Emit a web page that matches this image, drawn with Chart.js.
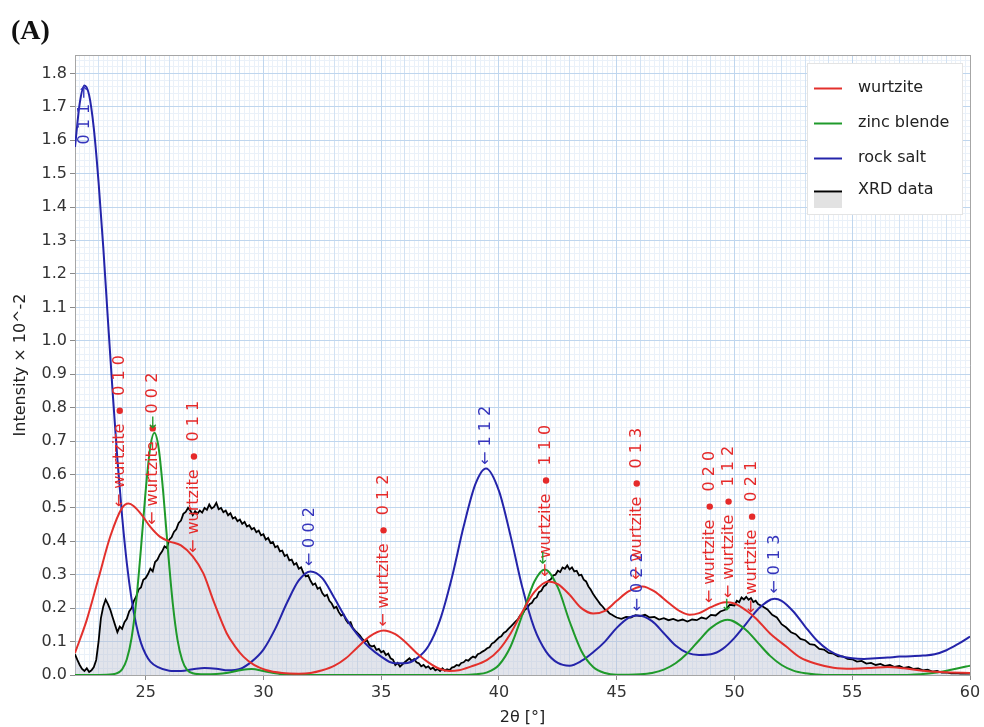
<!DOCTYPE html>
<html>
<head>
<meta charset="utf-8">
<title>XRD phase fit</title>
<script src="https://cdn.jsdelivr.net/npm/chart.js@4.4.1/dist/chart.umd.min.js"></script>
<style>
  html, body { margin: 0; padding: 0; background: #fff; }
  #wrap { width: 984px; height: 727px; position: relative; }
  canvas { display: block; }
</style>
</head>
<body>
<div id="wrap"><canvas id="xrd" width="984" height="727"></canvas></div>
<script>
// ---- axis ranges and labelled ticks ----
const angleRange = [22, 60];
const intensityRange = [0, 1.855];
const xTickValues = [25, 30, 35, 40, 45, 50, 55, 60];
const yTickValues = [0, 0.1, 0.2, 0.3, 0.4, 0.5, 0.6, 0.7, 0.8, 0.9, 1.0,
                     1.1, 1.2, 1.3, 1.4, 1.5, 1.6, 1.7, 1.8];
const seriesNames = ['wurtzite', 'zinc blende', 'rock salt', 'XRD data'];

// ---- fitted phase profiles: [2θ, intensity] ----
const wurtziteFit = [
  [22.0,0.066],[22.5,0.165],[23.0,0.29],[23.5,0.415],[24.0,0.5],[24.27,0.513],[24.5,0.505],
  [24.8,0.482],[25.2,0.443],[25.6,0.414],[26.0,0.4],[26.5,0.388],[27.0,0.355],[27.45,0.304],
  [27.9,0.218],[28.44,0.125],[28.8,0.085],[29.15,0.055],[29.6,0.03],[30.1,0.015],[30.8,0.006],
  [31.5,0.004],[32.0,0.006],[32.5,0.014],[33.0,0.027],[33.5,0.05],[34.0,0.083],[34.5,0.115],
  [35.1,0.133],[35.6,0.122],[36.0,0.1],[36.5,0.066],[37.0,0.038],[37.5,0.018],[37.9,0.012],
  [38.3,0.014],[38.8,0.025],[39.5,0.045],[40.0,0.075],[40.5,0.125],[41.0,0.19],[41.5,0.248],
  [42.1,0.28],[42.5,0.272],[43.0,0.24],[43.5,0.2],[44.0,0.184],[44.5,0.192],[45.0,0.222],
  [45.5,0.25],[46.1,0.265],[46.6,0.25],[47.2,0.216],[47.7,0.19],[48.1,0.18],[48.5,0.185],
  [49.0,0.203],[49.6,0.218],[50.0,0.214],[50.5,0.193],[50.9,0.17],[51.5,0.125],[52.2,0.085],
  [52.8,0.052],[53.5,0.033],[54.2,0.022],[55.0,0.019],[55.8,0.021],[56.5,0.024],[57.2,0.02],
  [58.0,0.013],[59.0,0.008],[60.0,0.006]
];

const zincBlendeFit = [
  [22.0,0],[23.0,0],[23.6,0.002],[24.0,0.017],[24.2,0.047],[24.4,0.11],[24.6,0.221],[24.8,0.378],
  [25.0,0.551],[25.2,0.684],[25.37,0.725],[25.55,0.68],[25.75,0.543],[25.95,0.37],[26.15,0.215],
  [26.35,0.106],[26.55,0.045],[26.75,0.016],[27.0,0.005],[27.5,0.002],[28.0,0.003],[28.5,0.007],
  [29.0,0.014],[29.5,0.018],[30.0,0.012],[30.5,0.005],[31.0,0.001],[32.0,0],[38.5,0],[39.0,0.002],
  [39.5,0.008],[40.0,0.03],[40.5,0.086],[41.0,0.181],[41.5,0.279],[41.95,0.316],[42.5,0.262],
  [43.0,0.16],[43.5,0.072],[44.0,0.024],[44.5,0.006],[45.0,0.001],[45.5,0.001],[46.0,0.002],
  [46.5,0.006],[47.0,0.016],[47.5,0.035],[48.0,0.065],[48.5,0.104],[49.0,0.141],[49.7,0.165],
  [50.5,0.134],[51.0,0.096],[51.5,0.058],[52.0,0.03],[52.5,0.013],[53.0,0.005],[53.5,0.0015],
  [54.0,0],[57.0,0],[57.5,0.001],[58.0,0.003],[58.5,0.007],[59.0,0.013],[59.5,0.02],[60.0,0.028]
];

const rockSaltFit = [
  [22.0,1.58],[22.2,1.71],[22.4,1.764],[22.6,1.735],[22.8,1.635],[23.0,1.475],[23.2,1.28],
  [23.4,1.06],[23.6,0.845],[23.8,0.645],[24.0,0.475],[24.2,0.335],[24.4,0.228],[24.6,0.15],
  [24.8,0.096],[25.0,0.062],[25.2,0.04],[25.5,0.024],[26.0,0.013],[26.5,0.012],[27.0,0.017],
  [27.5,0.021],[28.0,0.019],[28.5,0.014],[29.0,0.018],[29.5,0.04],[30.0,0.076],[30.5,0.138],
  [31.0,0.216],[31.5,0.283],[32.0,0.31],[32.5,0.29],[33.0,0.232],[33.5,0.17],[34.0,0.12],
  [34.5,0.082],[35.0,0.055],[35.5,0.036],[36.0,0.035],[36.5,0.049],[37.0,0.086],[37.5,0.165],
  [38.0,0.291],[38.5,0.444],[39.0,0.571],[39.45,0.618],[40.0,0.551],[40.5,0.414],[41.0,0.26],
  [41.5,0.14],[42.0,0.07],[42.5,0.036],[43.0,0.028],[43.5,0.042],[44.0,0.068],[44.5,0.1],
  [45.0,0.141],[45.5,0.171],[45.9,0.178],[46.5,0.161],[47.0,0.125],[47.5,0.088],[48.0,0.066],
  [48.5,0.06],[49.0,0.062],[49.5,0.078],[50.0,0.111],[50.5,0.154],[51.0,0.197],[51.7,0.228],
  [52.0,0.222],[52.5,0.19],[53.0,0.145],[53.5,0.103],[54.0,0.074],[54.5,0.057],[55.0,0.05],
  [55.5,0.048],[56.0,0.05],[56.5,0.052],[57.0,0.055],[57.5,0.056],[58.0,0.058],[58.5,0.062],
  [59.0,0.074],[59.5,0.093],[60.0,0.115]
];

// ---- measured diffractogram: [2θ, intensity] ----
const xrdData = [
  [22.0,0.062],[22.1,0.045],[22.2,0.03],[22.3,0.018],[22.4,0.012],[22.5,0.02],[22.6,0.009],
  [22.7,0.014],[22.8,0.024],[22.9,0.045],[23.0,0.1],[23.1,0.17],[23.2,0.205],[23.3,0.226],
  [23.4,0.212],[23.5,0.195],[23.6,0.172],[23.7,0.15],[23.8,0.128],[23.9,0.145],[24.0,0.138],
  [24.1,0.158],[24.2,0.168],[24.3,0.19],[24.4,0.2],[24.5,0.222],[24.6,0.235],[24.7,0.256],
  [24.8,0.262],[24.9,0.285],[25.0,0.29],[25.1,0.302],[25.2,0.318],[25.3,0.31],[25.4,0.338],
  [25.5,0.345],[25.6,0.36],[25.7,0.37],[25.8,0.385],[25.9,0.38],[26.0,0.405],[26.1,0.412],
  [26.2,0.428],[26.3,0.436],[26.4,0.455],[26.5,0.462],[26.6,0.482],[26.7,0.488],[26.8,0.5],
  [26.9,0.492],[27.0,0.478],[27.1,0.49],[27.2,0.483],[27.3,0.492],[27.4,0.486],[27.5,0.5],
  [27.6,0.494],[27.7,0.51],[27.8,0.498],[27.9,0.503],[28.0,0.515],[28.1,0.496],[28.2,0.5],
  [28.3,0.487],[28.4,0.492],[28.5,0.478],[28.6,0.484],[28.7,0.468],[28.8,0.472],[28.9,0.46],
  [29.0,0.465],[29.1,0.452],[29.2,0.458],[29.3,0.444],[29.4,0.448],[29.5,0.436],[29.6,0.44],
  [29.7,0.427],[29.8,0.432],[29.9,0.418],[30.0,0.421],[30.1,0.405],[30.2,0.41],[30.3,0.395],
  [30.4,0.398],[30.5,0.382],[30.6,0.386],[30.7,0.37],[30.8,0.372],[30.9,0.356],[31.0,0.36],
  [31.1,0.343],[31.2,0.345],[31.3,0.33],[31.4,0.335],[31.5,0.318],[31.6,0.322],[31.7,0.305],
  [31.8,0.295],[31.9,0.298],[32.0,0.282],[32.1,0.27],[32.2,0.274],[32.3,0.258],[32.4,0.262],
  [32.5,0.245],[32.6,0.236],[32.7,0.24],[32.8,0.222],[32.9,0.214],[33.0,0.2],[33.1,0.204],
  [33.2,0.188],[33.3,0.178],[33.4,0.182],[33.5,0.165],[33.6,0.155],[33.7,0.158],[33.8,0.14],
  [33.9,0.132],[34.0,0.125],[34.1,0.118],[34.2,0.108],[34.3,0.1],[34.4,0.104],[34.5,0.09],
  [34.6,0.085],[34.7,0.088],[34.8,0.075],[34.9,0.078],[35.0,0.068],[35.1,0.072],[35.2,0.06],
  [35.3,0.064],[35.4,0.05],[35.5,0.046],[35.6,0.03],[35.7,0.036],[35.8,0.025],[35.9,0.032],
  [36.0,0.038],[36.1,0.044],[36.2,0.05],[36.3,0.042],[36.4,0.048],[36.5,0.038],[36.6,0.035],
  [36.7,0.026],[36.8,0.03],[36.9,0.022],[37.0,0.026],[37.1,0.018],[37.2,0.022],[37.3,0.014],
  [37.4,0.018],[37.5,0.012],[37.6,0.02],[37.7,0.013],[37.8,0.017],[37.9,0.014],[38.0,0.022],
  [38.1,0.024],[38.2,0.03],[38.3,0.028],[38.4,0.036],[38.5,0.038],[38.6,0.045],[38.7,0.043],
  [38.8,0.05],[38.9,0.055],[39.0,0.052],[39.1,0.062],[39.2,0.065],[39.3,0.07],[39.4,0.074],
  [39.5,0.08],[39.6,0.083],[39.7,0.094],[39.8,0.098],[39.9,0.105],[40.0,0.112],[40.1,0.116],
  [40.2,0.126],[40.3,0.13],[40.4,0.138],[40.5,0.145],[40.6,0.152],[40.7,0.16],[40.8,0.166],
  [40.9,0.178],[41.0,0.182],[41.1,0.195],[41.2,0.2],[41.3,0.212],[41.4,0.216],[41.5,0.228],
  [41.6,0.232],[41.7,0.248],[41.8,0.252],[41.9,0.265],[42.0,0.27],[42.1,0.282],[42.2,0.286],
  [42.3,0.298],[42.4,0.3],[42.5,0.312],[42.6,0.308],[42.7,0.322],[42.8,0.318],[42.9,0.328],
  [43.0,0.316],[43.1,0.322],[43.2,0.31],[43.3,0.312],[43.4,0.298],[43.5,0.3],[43.6,0.285],
  [43.7,0.28],[43.8,0.265],[43.9,0.255],[44.0,0.242],[44.1,0.232],[44.2,0.222],[44.3,0.212],
  [44.4,0.205],[44.5,0.196],[44.6,0.192],[44.7,0.184],[44.8,0.18],[44.9,0.176],[45.0,0.172],
  [45.2,0.168],[45.4,0.174],[45.6,0.172],[45.8,0.179],[46.0,0.176],[46.2,0.18],[46.4,0.172],
  [46.6,0.174],[46.8,0.166],[47.0,0.17],[47.2,0.164],[47.4,0.168],[47.6,0.162],[47.8,0.166],
  [48.0,0.16],[48.2,0.166],[48.4,0.164],[48.6,0.172],[48.8,0.168],[49.0,0.18],[49.2,0.178],
  [49.4,0.19],[49.6,0.195],[49.8,0.21],[50.0,0.208],[50.1,0.222],[50.2,0.218],[50.3,0.232],
  [50.4,0.226],[50.5,0.234],[50.6,0.225],[50.7,0.23],[50.8,0.218],[50.9,0.222],[51.0,0.212],
  [51.2,0.205],[51.4,0.196],[51.6,0.18],[51.8,0.172],[52.0,0.152],[52.2,0.142],[52.4,0.128],
  [52.6,0.122],[52.8,0.108],[53.0,0.104],[53.2,0.092],[53.4,0.09],[53.6,0.078],[53.8,0.076],
  [54.0,0.066],[54.2,0.064],[54.4,0.056],[54.6,0.056],[54.8,0.048],[55.0,0.047],[55.2,0.04],
  [55.4,0.042],[55.6,0.034],[55.8,0.036],[56.0,0.03],[56.2,0.033],[56.4,0.027],[56.6,0.03],
  [56.8,0.024],[57.0,0.027],[57.2,0.021],[57.4,0.024],[57.6,0.018],[57.8,0.02],[58.0,0.014],
  [58.2,0.016],[58.4,0.01],[58.6,0.012],[58.8,0.007],[59.0,0.008],[59.2,0.005],[59.4,0.006],
  [59.6,0.004],[59.8,0.005],[60.0,0.004]
];

// ---- reflection markers: [hkl, 2θ, intensity at arrow tip] ----
const wurtziteReflections = [
  ['0 1 0', 23.9, 0.502], ['0 0 2', 25.3, 0.449], ['0 1 1', 27.05, 0.365],
  ['0 1 2', 35.1, 0.144], ['1 1 0', 42.0, 0.293], ['0 1 3', 45.85, 0.284],
  ['0 2 0', 48.95, 0.215], ['1 1 2', 49.75, 0.23], ['0 2 1', 50.75, 0.185]
];
const rockSaltReflections = [
  ['0 1 1', 22.42, 1.764], ['0 0 2', 31.98, 0.325], ['1 1 2', 39.45, 0.628],
  ['0 2 2', 45.9, 0.19], ['0 1 3', 51.72, 0.243]
];
const zincBlendeReflections = [[25.35, 0.735], [41.9, 0.33], [49.7, 0.19]];

const RED = '#e3302c', GREEN = '#1f9a2b', BLUE = '#2424aa';
const LABEL_RED = '#e52a2a', LABEL_BLUE = '#3434bc';
const FONT = '"DejaVu Sans", Verdana, sans-serif';

// rotated hkl annotations drawn in data coordinates
const reflectionLabels = {
  id: 'reflectionLabels',
  afterDatasetsDraw(chart) {
    const { ctx, scales: { x, y } } = chart;
    const frame = (angle, tip, color, fn) => {
      ctx.save();
      ctx.translate(x.getPixelForValue(angle), y.getPixelForValue(tip));
      ctx.rotate(-Math.PI / 2);
      ctx.font = '16px ' + FONT;
      ctx.textBaseline = 'middle';
      ctx.fillStyle = color;
      fn();
      ctx.restore();
    };
    rockSaltReflections.forEach(([hkl, a, t], i) => frame(a, t, LABEL_BLUE, () => {
      if (i === 0) { ctx.textAlign = 'right'; ctx.fillText(hkl + ' \u2192', 0, 0); }
      else { ctx.textAlign = 'left'; ctx.fillText('\u2190 ' + hkl, 0, 0); }
    }));
    wurtziteReflections.forEach(([hkl, a, t]) => frame(a, t, LABEL_RED, () => {
      ctx.textAlign = 'left';
      const head = '\u2190 wurtzite';
      const w = ctx.measureText(head).width;
      ctx.fillText(head, 0, 0);
      const dot = w + 13;
      ctx.beginPath();
      ctx.arc(dot, 0, 3.2, 0, Math.PI * 2);
      ctx.fill();
      ctx.fillText(hkl, dot + 15, 0);
    }));
    zincBlendeReflections.forEach(([a, t]) => frame(a, t, GREEN, () => {
      ctx.textAlign = 'left';
      ctx.fillText('\u2190', 0, 0);
    }));
  }
};

// panel letter and boxed legend inside the plot
const panelDecor = {
  id: 'panelDecor',
  afterDraw(chart) {
    const ctx = chart.ctx;
    ctx.save();
    ctx.font = 'bold 28px "Liberation Serif", "Times New Roman", serif';
    ctx.fillStyle = '#111';
    ctx.textBaseline = 'alphabetic';
    ctx.textAlign = 'left';
    ctx.fillText('(A)', 11, 39);

    const bx = 807, by = 63, bw = 156, bh = 152;
    ctx.fillStyle = '#ffffff';
    ctx.fillRect(bx, by, bw, bh);
    ctx.strokeStyle = '#e4e4e4';
    ctx.lineWidth = 1;
    ctx.strokeRect(bx + 0.5, by + 0.5, bw - 1, bh - 1);

    const rows = [88, 123, 158, 191];
    ctx.font = '16px ' + FONT;
    ctx.textBaseline = 'middle';
    chart.data.datasets.forEach((ds, i) => {
      const ry = rows[i];
      if (i === 3) {
        ctx.fillStyle = '#e2e2e2';
        ctx.fillRect(814, ry + 2, 28, 15);
      }
      ctx.strokeStyle = ds.borderColor;
      ctx.lineWidth = 2;
      ctx.beginPath();
      ctx.moveTo(814, ry + 0.5);
      ctx.lineTo(842, ry + 0.5);
      ctx.stroke();
      ctx.fillStyle = '#222';
      ctx.fillText(ds.label, 858, i === 3 ? ry - 1 : ry);
    });
    ctx.restore();
  }
};

const fitLine = (label, data, color) => ({
  label, data, borderColor: color, backgroundColor: color,
  borderWidth: 2, pointRadius: 0, fill: false,
  cubicInterpolationMode: 'monotone'
});

const minorGrid = (position, step, z, color, borderOn) => ({
  type: 'linear', position,
  min: position === 'top' ? angleRange[0] : intensityRange[0],
  max: position === 'top' ? angleRange[1] : intensityRange[1],
  ticks: { display: false, stepSize: step, includeBounds: false },
  grid: { color, lineWidth: 1, drawTicks: false, z },
  border: { display: borderOn, color: '#a6a6a6', width: 1 },
  afterFit(s) { if (position === 'top') s.height = 0; else s.width = 0; }
});

new Chart(document.getElementById('xrd'), {
  type: 'line',
  data: {
    datasets: [
      fitLine(seriesNames[0], wurtziteFit, RED),
      fitLine(seriesNames[1], zincBlendeFit, GREEN),
      fitLine(seriesNames[2], rockSaltFit, BLUE),
      {
        label: seriesNames[3], data: xrdData,
        borderColor: '#000000', backgroundColor: 'rgba(190,196,211,0.45)',
        borderWidth: 1.8, pointRadius: 0, tension: 0, fill: 'origin'
      }
    ]
  },
  options: {
    responsive: false,
    devicePixelRatio: 1,
    animation: false,
    layout: { padding: { left: 0, top: 55, right: 14, bottom: 0 } },
    plugins: { legend: { display: false }, tooltip: { enabled: false }, title: { display: false } },
    scales: {
      x: {
        type: 'linear', position: 'bottom',
        min: angleRange[0], max: angleRange[1],
        afterBuildTicks(s) { s.ticks = xTickValues.map(v => ({ value: v })); },
        ticks: { color: '#333', font: { family: FONT, size: 16 }, padding: 3, maxRotation: 0, autoSkip: false,
                 callback: v => String(v) },
        grid: { color: '#bfd6ee', tickColor: '#8a8a8a', tickLength: 5, z: -1 },
        border: { display: true, color: '#a6a6a6', width: 1 },
        title: { display: true, text: '2\u03b8 [\u00b0]', color: '#222',
                 font: { family: FONT, size: 16 }, padding: { top: 0, bottom: 0 } },
        afterFit(s) { s.height = 52; }
      },
      y: {
        type: 'linear', position: 'left',
        min: intensityRange[0], max: intensityRange[1],
        afterBuildTicks(s) { s.ticks = yTickValues.map(v => ({ value: v })); },
        ticks: { color: '#333', font: { family: FONT, size: 16 }, padding: 3, autoSkip: false,
                 callback: v => Number(v).toFixed(1) },
        grid: { color: '#bfd6ee', tickColor: '#8a8a8a', tickLength: 5, z: -1 },
        border: { display: true, color: '#a6a6a6', width: 1 },
        title: { display: true, text: 'Intensity \u00d7 10^-2', color: '#222',
                 font: { family: FONT, size: 16 }, padding: { top: 11, bottom: 0 } },
        afterFit(s) { s.width = 75; }
      },
      xMid: minorGrid('top', 1, -2, '#d2e2f3', false),
      xMinor: minorGrid('top', 0.2, -3, '#eaf1f9', true),
      yMinor: minorGrid('right', 0.02, -3, '#eaf1f9', true)
    }
  },
  plugins: [reflectionLabels, panelDecor]
});
</script>
</body>
</html>
